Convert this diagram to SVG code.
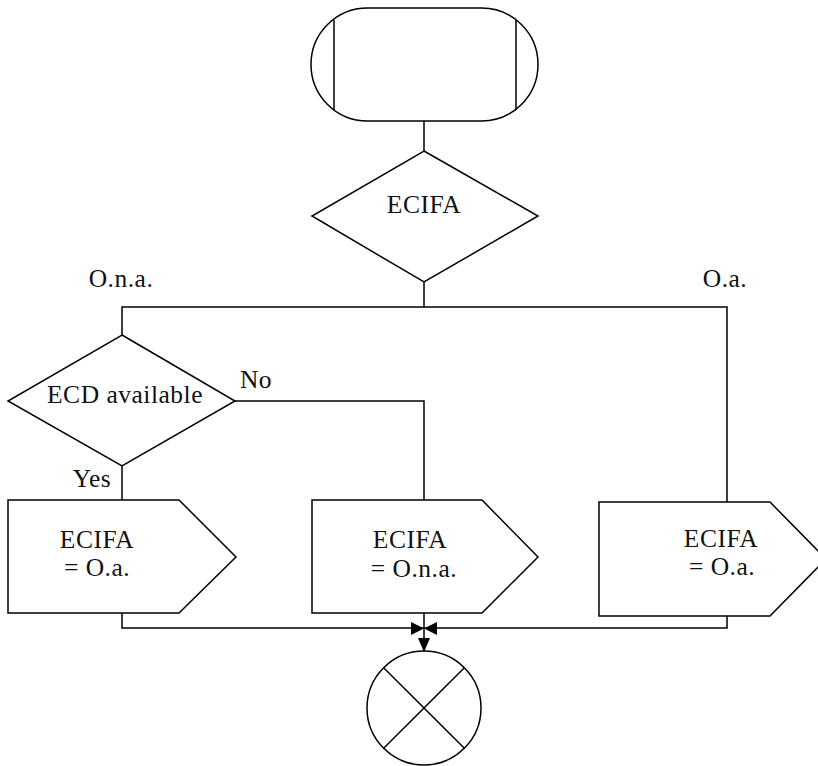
<svg xmlns="http://www.w3.org/2000/svg" width="818" height="766" viewBox="0 0 818 766">
<defs>
<style>
.s{fill:#fff;stroke:#000;stroke-width:1.5}
.l{fill:none;stroke:#000;stroke-width:1.5}
.t{font-family:"Liberation Serif","Times New Roman",serif;font-size:25.5px;letter-spacing:0.5px;fill:#111;text-anchor:middle}
.a{fill:#000;stroke:none}
</style>
</defs>
<rect width="818" height="766" fill="#fff"/>
<g id="connectors">
<path class="l" d="M424,121 V151"/>
<path class="l" d="M424,282 V307"/>
<path class="l" d="M122,335 V307 H727 V502"/>
<path class="l" d="M235,401 H424 V500"/>
<path class="l" d="M122,466 V500"/>
<path class="l" d="M122,613 V628 H727 V616"/>
<path class="l" d="M424,613 V652"/>
<polygon class="a" points="411,622 411,635 424,628.5"/>
<polygon class="a" points="437,622 437,635 424,628.5"/>
<polygon class="a" points="418,638 430,638 424,652"/>
</g>
<g id="start">
<rect class="s" x="311" y="8" width="227" height="113" rx="56.5" ry="56.5"/>
<path class="l" d="M334,20 V110 M516,20 V110" stroke-width="2"/>
</g>
<g id="decision1">
<polygon class="s" points="424,151 538,216 424,282 312,216"/>
<text class="t" x="424" y="213">ECIFA</text>
</g>
<text class="t" x="121" y="287">O.n.a.</text>
<text class="t" x="725" y="287">O.a.</text>
<g id="decision2">
<polygon class="s" points="122,335 235,401 122,466 8,401"/>
<text class="t" x="125" y="403">ECD available</text>
</g>
<text class="t" x="256" y="388">No</text>
<text class="t" x="92" y="487">Yes</text>
<g id="box1">
<polygon class="s" points="8,500 179,500 236,557 179,613 8,613"/>
<text class="t" x="97" y="548">ECIFA</text>
<text class="t" x="97" y="576">= O.a.</text>
</g>
<g id="box2">
<polygon class="s" points="312,500 482,500 538,557 482,613 312,613"/>
<text class="t" x="410" y="548">ECIFA</text>
<text class="t" x="414" y="577">= O.n.a.</text>
</g>
<g id="box3">
<polygon class="s" points="599,502 770,502 826,559 770,616 599,616"/>
<text class="t" x="721" y="547">ECIFA</text>
<text class="t" x="722" y="575">= O.a.</text>
</g>
<g id="end">
<circle class="s" cx="424" cy="708" r="57"/>
<path class="l" d="M383.7,667.7 L464.3,748.3 M464.3,667.7 L383.7,748.3"/>
</g>
</svg>
